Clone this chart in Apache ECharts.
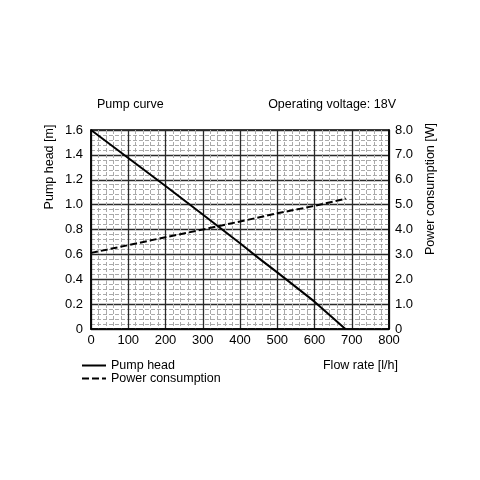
<!DOCTYPE html>
<html><head><meta charset="utf-8">
<script src="https://cdn.jsdelivr.net/npm/echarts@6/dist/echarts.min.js"></script>
<style>html,body{margin:0;padding:0;background:#fff}#c{width:480px;height:480px}</style>
</head><body><div id="c"></div>
<script>
const flowRate = [0, 100, 200, 300, 400, 450, 500, 600, 683];
const pumpHead = [1.6, 1.375, 1.15, 0.92, 0.69, 0.57, 0.455, 0.22, 0];
const powerFlow = [0, 100, 200, 300, 400, 500, 600, 685];
const powerW = [3.06, 3.37, 3.69, 4.0, 4.32, 4.65, 4.95, 5.24];
const xTicks = [0, 100, 200, 300, 400, 500, 600, 700, 800];
const headTicks = [0, 0.2, 0.4, 0.6, 0.8, 1.0, 1.2, 1.4, 1.6];
const powerTicks = [0, 1, 2, 3, 4, 5, 6, 7, 8];

const font = 'Liberation Sans, Arial, sans-serif';
const chart = echarts.init(document.getElementById('c'), null, {renderer: 'canvas'});
const majorLine = {color: '#2a2a2a', width: 1.3};
const minorLine = {color: '#aaa', width: 1, type: [4, 2]};
chart.setOption({
  animation: false,
  backgroundColor: '#fff',
  textStyle: {fontFamily: font, color: '#000'},
  grid: {left: 91, right: 91, top: 130, bottom: 151, show: true, borderColor: '#000', borderWidth: 1.5},
  xAxis: {
    type: 'value', min: xTicks[0], max: xTicks[xTicks.length - 1], interval: 100,
    axisLine: {show: true, lineStyle: {color: '#000', width: 1.5}},
    axisTick: {show: false},
    axisLabel: {color: '#000', fontSize: 13, fontFamily: font, margin: 5},
    splitLine: {show: true, lineStyle: majorLine},
    minorTick: {show: false, splitNumber: 5},
    minorSplitLine: {show: true, lineStyle: minorLine}
  },
  yAxis: [{
    type: 'value', min: headTicks[0], max: headTicks[headTicks.length - 1], interval: 0.2,
    axisLine: {show: true, lineStyle: {color: '#000', width: 1.5}},
    axisTick: {show: false},
    axisLabel: {color: '#000', fontSize: 13, fontFamily: font, margin: 8,
      formatter: v => v === 0 ? '0' : v.toFixed(1)},
    splitLine: {show: true, lineStyle: majorLine},
    minorTick: {show: false, splitNumber: 5},
    minorSplitLine: {show: true, lineStyle: minorLine}
  }, {
    type: 'value', min: powerTicks[0], max: powerTicks[powerTicks.length - 1], interval: 1,
    position: 'right',
    axisLine: {show: true, lineStyle: {color: '#000', width: 1.5}},
    axisTick: {show: false},
    axisLabel: {color: '#000', fontSize: 13, fontFamily: font, margin: 6,
      formatter: v => v === 0 ? '0' : v.toFixed(1)},
    splitLine: {show: false}
  }],
  legend: {
    orient: 'vertical', left: 81, top: 359, itemWidth: 24, itemHeight: 8, itemGap: 0, padding: 0,
    itemStyle: {opacity: 0},
    textStyle: {fontSize: 12.5, color: '#000', fontFamily: font},
    data: ['Pump head', 'Power consumption']
  },
  series: [{
    name: 'Pump head', type: 'line', yAxisIndex: 0, symbol: 'none',
    lineStyle: {color: '#000', width: 2},
    itemStyle: {color: '#000'},
    data: flowRate.map((f, i) => [f, pumpHead[i]])
  }, {
    name: 'Power consumption', type: 'line', yAxisIndex: 1, symbol: 'none',
    lineStyle: {color: '#000', width: 2, type: [7, 3]},
    itemStyle: {color: '#000'},
    data: powerFlow.map((f, i) => [f, powerW[i]])
  }],
  graphic: [
    {type: 'text', left: 97, top: 98, style: {text: 'Pump curve', fontSize: 12.5, fontFamily: font, fill: '#000'}},
    {type: 'text', right: 84, top: 98, style: {text: 'Operating voltage: 18V', fontSize: 12.5, fontFamily: font, fill: '#000'}},
    {type: 'text', x: 50, y: 167, rotation: Math.PI / 2, style: {text: 'Pump head [m]', fontSize: 12.5, fontFamily: font, fill: '#000', align: 'center', verticalAlign: 'middle'}},
    {type: 'text', x: 431, y: 189, rotation: Math.PI / 2, style: {text: 'Power consumption [W]', fontSize: 12.5, fontFamily: font, fill: '#000', align: 'center', verticalAlign: 'middle'}},
    {type: 'text', right: 82, top: 359, style: {text: 'Flow rate [l/h]', fontSize: 12.5, fontFamily: font, fill: '#000'}}
  ]
});
</script></body></html>
